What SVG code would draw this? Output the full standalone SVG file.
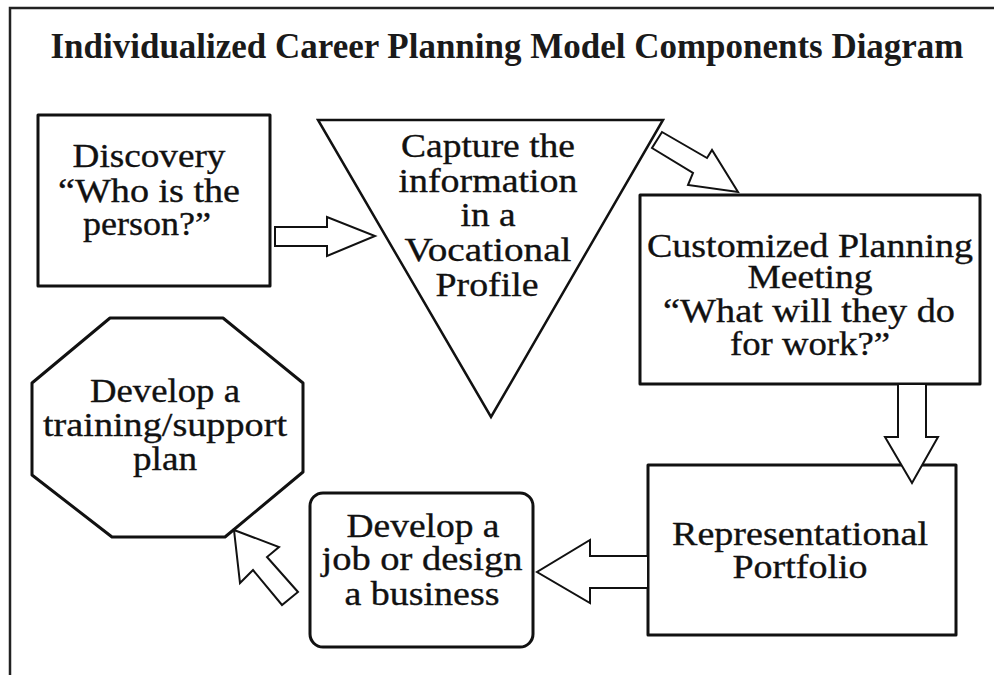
<svg xmlns="http://www.w3.org/2000/svg" width="994" height="675" viewBox="0 0 994 675">
  <style>
    .frame { fill: none; stroke: #222; stroke-width: 2.5; }
    .node { fill: #fff; stroke: #111; stroke-width: 3; stroke-linejoin: round; }
    .thin { fill: #fff; stroke: #111; stroke-width: 2.5; stroke-linejoin: miter; }
    .arrow { fill: #fff; stroke: #111; stroke-width: 2; stroke-linejoin: miter; }
    .label { font-family: "Liberation Serif", "Times New Roman", serif; font-size: 34px; fill: #111; stroke: #111; stroke-width: 0.35; text-anchor: middle; }
    .title { font-family: "Liberation Serif", "Times New Roman", serif; font-size: 35px; font-weight: bold; fill: #1a1a1a; text-anchor: middle; }
  </style>

  <rect width="994" height="675" fill="#fff"/>

  <!-- open frame: top rule and left rule -->
  <path class="frame" d="M10 675 V8 H994"/>

  <text class="title" x="507" y="58" textLength="913" lengthAdjust="spacingAndGlyphs">Individualized Career Planning Model Components Diagram</text>

  <g id="discovery">
    <rect class="node" x="38" y="115" width="232" height="171"/>
    <text class="label" x="149" y="167" textLength="153" lengthAdjust="spacingAndGlyphs">Discovery</text>
    <text class="label" x="149" y="202" textLength="182" lengthAdjust="spacingAndGlyphs">“Who is the</text>
    <text class="label" x="147" y="235" textLength="128" lengthAdjust="spacingAndGlyphs">person?”</text>
  </g>

  <g id="vocational-profile">
    <polygon class="thin" points="318,120 663,120 491,417"/>
    <text class="label" x="488" y="157" textLength="174" lengthAdjust="spacingAndGlyphs">Capture the</text>
    <text class="label" x="488" y="192" textLength="179" lengthAdjust="spacingAndGlyphs">information</text>
    <text class="label" x="488" y="226" textLength="55" lengthAdjust="spacingAndGlyphs">in a</text>
    <text class="label" x="488" y="261" textLength="167" lengthAdjust="spacingAndGlyphs">Vocational</text>
    <text class="label" x="487" y="296" textLength="103" lengthAdjust="spacingAndGlyphs">Profile</text>
  </g>

  <g id="planning-meeting">
    <rect class="node" x="640" y="195" width="340" height="189"/>
    <text class="label" x="810" y="257" textLength="326" lengthAdjust="spacingAndGlyphs">Customized Planning</text>
    <text class="label" x="810" y="288" textLength="125" lengthAdjust="spacingAndGlyphs">Meeting</text>
    <text class="label" x="809" y="322" textLength="292" lengthAdjust="spacingAndGlyphs">“What will they do</text>
    <text class="label" x="810" y="355" textLength="160" lengthAdjust="spacingAndGlyphs">for work?”</text>
  </g>

  <g id="portfolio">
    <rect class="node" x="648" y="465" width="308" height="170"/>
    <text class="label" x="800" y="545" textLength="256" lengthAdjust="spacingAndGlyphs">Representational</text>
    <text class="label" x="800" y="578" textLength="135" lengthAdjust="spacingAndGlyphs">Portfolio</text>
  </g>

  <g id="job-design">
    <rect class="node" x="310" y="493" width="223" height="154" rx="13" ry="13"/>
    <text class="label" x="423" y="537" textLength="153" lengthAdjust="spacingAndGlyphs">Develop a</text>
    <text class="label" x="422" y="570" textLength="201" lengthAdjust="spacingAndGlyphs">job or design</text>
    <text class="label" x="422" y="605" textLength="155" lengthAdjust="spacingAndGlyphs">a business</text>
  </g>

  <g id="support-plan">
    <polygon class="node" points="110,318 223,318 303,383 303,472 225,537 112,537 32,475 32,383"/>
    <text class="label" x="165" y="402" textLength="150" lengthAdjust="spacingAndGlyphs">Develop a</text>
    <text class="label" x="165" y="436" textLength="244" lengthAdjust="spacingAndGlyphs">training/support</text>
    <text class="label" x="165" y="470" textLength="64" lengthAdjust="spacingAndGlyphs">plan</text>
  </g>

  <!-- block arrows between the stages -->
  <g id="connectors">
    <polygon class="arrow" points="275,227 327,227 327,217 375,236 327,256 327,246 275,246"/>
    <polygon class="arrow" points="662,132 707,158 712,150 738,192 688,185 693,173 652,148"/>
    <polygon class="arrow" points="898,384 926,384 926,437 938,437 912,483 885,437 898,437"/>
    <polygon class="arrow" points="648,556 590,556 590,540 537,572 590,603 590,588 648,588"/>
    <polygon class="arrow" points="234,530 279,547 267,557 298,592 282,605 253,570 240,583"/>
  </g>
</svg>
